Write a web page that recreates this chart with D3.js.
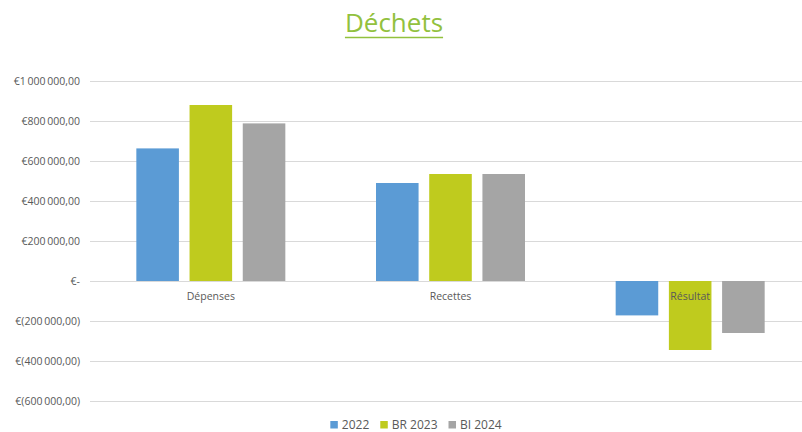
<!DOCTYPE html>
<html>
<head>
<meta charset="utf-8">
<script src="https://cdn.jsdelivr.net/npm/d3@7"></script>
<style>
  body { margin: 0; background: #fff; }
  text { font-family: "Open Sans", "Noto Sans", sans-serif; }
</style>
</head>
<body>
<div id="chart"></div>
<script>
var svgWidth = 802;
var svgHeight = 432;

// data
var categories = ["Dépenses", "Recettes", "Résultat"];
var seriesNames = ["2022", "BR 2023", "BI 2024"];
var values2022 = [663000, 490000, -172000];
var valuesBR2023 = [880000, 535000, -345000];
var valuesBI2024 = [788000, 535000, -260000];
var yTicks = [-600000, -400000, -200000, 0, 200000, 400000, 600000, 800000, 1000000];

var colors = ["#5B9BD5", "#BFCB1E", "#A5A5A5"];
var allSeries = [values2022, valuesBR2023, valuesBI2024];

var svg = d3.select("#chart")
    .append("svg")
    .attr("width", svgWidth)
    .attr("height", svgHeight);

// title
var title = svg.append("text")
    .attr("x", 394)
    .attr("y", 32)
    .attr("text-anchor", "middle")
    .attr("fill", "#92C13E")
    .style("font-size", "26px")
    .text("Déchets");
var tw = title.node().getComputedTextLength();
svg.append("line")
    .attr("x1", 394 - tw / 2).attr("x2", 394 + tw / 2)
    .attr("y1", 37.5).attr("y2", 37.5)
    .attr("stroke", "#92C13E")
    .attr("stroke-width", 1.5);

var x0 = d3.scaleBand()
    .domain(categories)
    .range([91, 810]);

var x1 = d3.scaleBand()
    .domain(seriesNames)
    .range([-74.5, 74.5])
    .paddingInner(0.2);

var y = d3.scaleLinear()
    .domain([-600000, 1000000])
    .range([401, 81]);

var nf = d3.formatLocale({
    decimal: ",",
    thousands: "\u2009",
    grouping: [3],
    currency: ["€", ""]
}).format(",.2f");

function money(v) {
    if (v === 0) return "€-";
    if (v < 0) return "€(" + nf(-v) + ")";
    return "€" + nf(v);
}

// gridlines
svg.append("g")
    .selectAll("line")
    .data(yTicks)
    .enter()
    .append("line")
    .attr("x1", 90)
    .attr("x2", svgWidth)
    .attr("y1", d => Math.round(y(d)) + 0.5)
    .attr("y2", d => Math.round(y(d)) + 0.5)
    .attr("stroke", "#D9D9D9")
    .attr("stroke-width", 1.2);

// y labels
svg.append("g")
    .selectAll("text")
    .data(yTicks)
    .enter()
    .append("text")
    .attr("x", 80)
    .attr("y", d => y(d) + 3.5)
    .attr("text-anchor", "end")
    .attr("fill", "#595959")
    .style("font-size", "10.5px")
    .text(d => money(d));

// bars
var groups = svg.append("g")
    .selectAll("g")
    .data(categories)
    .enter()
    .append("g")
    .attr("transform", d => `translate(${x0(d) + x0.bandwidth() / 2}, 0)`);

groups.selectAll("rect")
    .data((d, i) => seriesNames.map((s, j) => ({ s: s, v: allSeries[j][i], c: colors[j] })))
    .enter()
    .append("rect")
    .attr("x", d => x1(d.s))
    .attr("width", x1.bandwidth())
    .attr("y", d => y(Math.max(0, d.v)))
    .attr("height", d => Math.abs(y(d.v) - y(0)))
    .attr("fill", d => d.c);

// category labels
svg.append("g")
    .selectAll("text")
    .data(categories)
    .enter()
    .append("text")
    .attr("x", d => x0(d) + x0.bandwidth() / 2)
    .attr("y", 300)
    .attr("text-anchor", "middle")
    .attr("fill", "#595959")
    .style("font-size", "10.5px")
    .text(d => d);

// legend
var legend = svg.append("g");
var lx = 0;
seriesNames.forEach(function (s, i) {
    var item = legend.append("g").attr("transform", `translate(${lx}, 0)`);
    item.append("rect")
        .attr("x", 0).attr("y", -4)
        .attr("width", 7.5).attr("height", 7.5)
        .attr("fill", colors[i]);
    var t = item.append("text")
        .attr("x", 11.5)
        .attr("y", 4)
        .attr("fill", "#595959")
        .style("font-size", "12px")
        .text(s);
    lx += 11.5 + t.node().getComputedTextLength() + 11;
});
legend.attr("transform", `translate(${416 - (lx - 11) / 2}, 425)`);
</script>
</body>
</html>
